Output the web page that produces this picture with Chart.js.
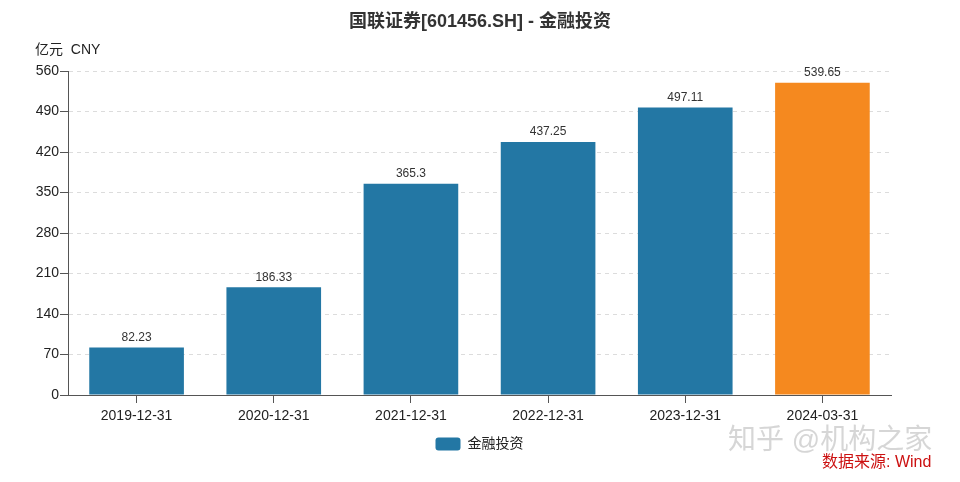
<!DOCTYPE html>
<html>
<head>
<meta charset="utf-8">
<script src="https://cdn.jsdelivr.net/npm/chart.js@4.4.1/dist/chart.umd.min.js"></script>
<style>
  html, body { margin: 0; padding: 0; background: #fff; }
  #wrap { width: 960px; height: 482px; position: relative; }
</style>
</head>
<body>
<div id="wrap"><canvas id="grafico"></canvas></div>
<script>
// datos
const fechas = ['2019-12-31', '2020-12-31', '2021-12-31', '2022-12-31', '2023-12-31', '2024-03-31'];
const valores = [82.23, 186.33, 365.3, 437.25, 497.11, 539.65];
const etiquetas = ['82.23', '186.33', '365.3', '437.25', '497.11', '539.65'];
const ejeY = [0, 70, 140, 210, 280, 350, 420, 490, 560];

const titulo = '国联证券[601456.SH] - 金融投资';
const unidad = '亿元  CNY';
const serie = '金融投资';

const azul = '#2377a4';
const naranja = '#f5891f';
const fuente = "Helvetica, Arial, 'Liberation Sans', 'Noto Sans CJK SC', sans-serif";

// textos fijos y etiquetas de barras
const textos = {
  id: 'textos',
  afterDatasetsDraw(chart) {
    const ctx = chart.ctx;
    const meta = chart.getDatasetMeta(0);
    ctx.save();
    ctx.font = '12px ' + fuente;
    ctx.fillStyle = '#333';
    ctx.textAlign = 'center';
    ctx.textBaseline = 'bottom';
    meta.data.forEach(function(bar, i) {
      ctx.fillText(etiquetas[i], bar.x, bar.y - 4);
    });
    ctx.restore();
  },
  afterDraw(chart) {
    const ctx = chart.ctx;
    ctx.save();
    ctx.textBaseline = 'middle';

    ctx.font = 'bold 18px ' + fuente;
    ctx.fillStyle = '#333';
    ctx.textAlign = 'center';
    ctx.fillText(titulo, 480, 22);

    ctx.font = '14px ' + fuente;
    ctx.fillStyle = '#222';
    ctx.textAlign = 'left';
    ctx.fillText(unidad, 35, 50);

    ctx.font = '28px ' + fuente;
    ctx.fillStyle = 'rgba(200,200,200,0.75)';
    ctx.textAlign = 'left';
    ctx.fillText('知乎 @机构之家', 728, 441);

    ctx.font = '16px ' + fuente;
    ctx.fillStyle = '#cc1111';
    ctx.fillText('数据来源: Wind', 822, 463);
    ctx.restore();
  }
};

const data = {
  labels: fechas,
  datasets: [{
    label: serie,
    data: valores,
    backgroundColor: function(c) {
      return c.dataIndex === fechas.length - 1 ? naranja : azul;
    },
    categoryPercentage: 1,
    barPercentage: 0.69
  }]
};

const config = {
  type: 'bar',
  data: data,
  options: {
    responsive: true,
    maintainAspectRatio: false,
    animation: false,
    layout: {
      padding: { left: 0, right: 69, top: 71, bottom: 21 }
    },
    scales: {
      x: {
        grid: {
          offset: false,
          drawOnChartArea: false,
          drawTicks: true,
          tickLength: 8,
          tickColor: '#555'
        },
        border: { color: '#555', width: 1 },
        ticks: {
          color: '#222',
          font: { size: 14, family: fuente },
          padding: 5,
          maxRotation: 0
        },
        afterFit: function(scale) { scale.height = 34; }
      },
      y: {
        min: 0,
        max: 560,
        afterBuildTicks: function(scale) {
          scale.ticks = ejeY.map(function(v) { return { value: v }; });
        },
        grid: {
          color: '#dcdcdc',
          tickColor: '#555',
          tickLength: 8,
          drawTicks: true
        },
        border: { color: '#555', width: 1, dash: [4, 4] },
        ticks: {
          color: '#222',
          font: { size: 14, family: fuente },
          padding: 1
        },
        afterFit: function(scale) { scale.width = 68; }
      }
    },
    plugins: {
      title: { display: false },
      tooltip: { enabled: false },
      legend: {
        position: 'bottom',
        fullSize: false,
        labels: {
          boxWidth: 25,
          boxHeight: 13,
          useBorderRadius: true,
          borderRadius: 3,
          padding: 8,
          color: '#222',
          font: { size: 14, family: fuente }
        }
      }
    }
  },
  plugins: [textos]
};

var grafico = new Chart(document.getElementById('grafico'), config);
</script>
</body>
</html>
